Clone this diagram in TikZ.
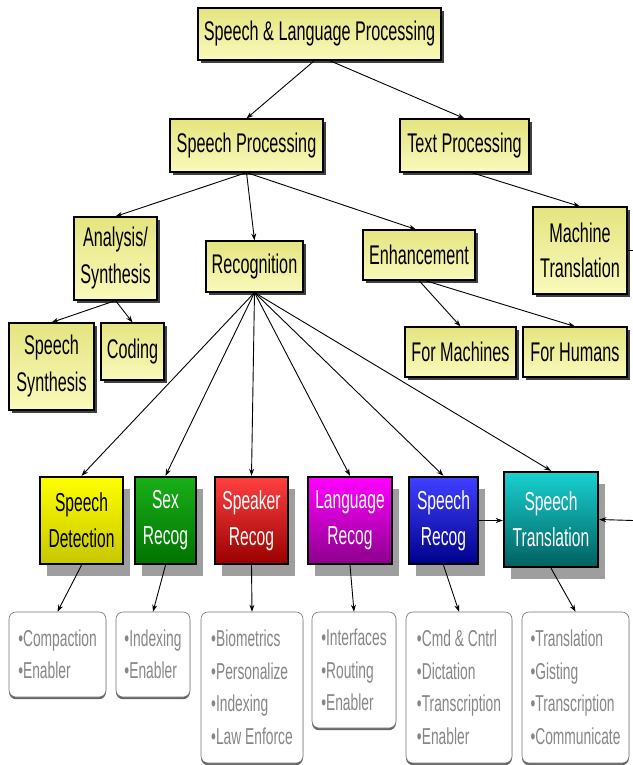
\documentclass[tikz,border=0pt]{standalone}
\usepackage{fontspec}
\setmainfont[FakeStretch=0.6]{Liberation Sans}
\usetikzlibrary{shadows,arrows.meta,calc}
\definecolor{ytop}{RGB}{228,228,128}
\definecolor{ybot}{RGB}{250,250,188}
\definecolor{listgray}{RGB}{135,135,135}
\tikzset{
  ybox/.style={draw=black, line width=1.1pt, top color=ytop, bottom color=ybot,
    drop shadow={shadow xshift=3pt, shadow yshift=-3pt, fill=black!75, opacity=1},
    align=center, inner sep=2pt, font=\fontsize{27}{37}\selectfont},
  cbox/.style 2 args={draw=black, line width=2.4pt, top color=#1, bottom color=#2,
    drop shadow={shadow xshift=7pt, shadow yshift=-12pt, fill=black!38, opacity=1},
    align=center, inner sep=2pt, text=white, font=\fontsize{26}{36}\selectfont,
    minimum height=87pt},
  lbox/.style={draw=black!55, line width=0.6pt, rounded corners=7pt, fill=white,
    drop shadow={shadow xshift=0pt, shadow yshift=-2.2pt, fill=black!60, opacity=1},
    align=left, inner sep=0pt, text=listgray, font=\fontsize{23}{32.5}\selectfont},
  arr/.style={line width=0.9pt, -{Stealth[length=7pt,width=5pt]}},
}
\begin{document}
\begin{tikzpicture}[x=1pt,y=-1pt]
\useasboundingbox (0,0) rectangle (632,765);
% yellow level
\node[ybox, minimum width=243pt, minimum height=52pt] (slp) at (319.5,34) {Speech \& Language Processing};
\node[ybox, minimum width=153pt, minimum height=53pt] (sp) at (246.5,145.5) {Speech Processing};
\node[ybox, minimum width=129pt, minimum height=53pt] (tp) at (464.5,145.5) {Text Processing};
\node[ybox, minimum width=83pt, minimum height=83pt] (ana) at (115.5,258.5) {Analysis/\\Synthesis};
\node[ybox, minimum width=97pt, minimum height=51pt] (rec) at (254.5,266.5) {Recognition};
\node[ybox, minimum width=112pt, minimum height=50pt] (enh) at (419,255) {Enhancement};
\node[ybox, minimum width=94pt, minimum height=87pt, font=\fontsize{27}{35}\selectfont] (mt) at (580,250.5) {Machine\\Translation};
\node[ybox, minimum width=85pt, minimum height=87pt] (ss) at (51.5,366.5) {Speech\\Synthesis};
\node[ybox, minimum width=63pt, minimum height=57pt] (cod) at (132.5,351.5) {Coding};
\node[ybox, minimum width=111pt, minimum height=50pt] (fm) at (460.5,352) {For Machines};
\node[ybox, minimum width=104pt, minimum height=50pt] (fh) at (575,352) {For Humans};
% coloured level
\node[cbox={yellow}{yellow!78!black}, text=black, minimum width=83pt] (sd) at (81.5,520.5) {Speech\\Detection};
\node[cbox={green!65!black!90}{green!45!black}, minimum width=61pt] (sx) at (165.5,520.5) {Sex\\Recog};
\node[cbox={red!75!white}{red!60!black}, minimum width=73pt] (spk) at (251.5,520.5) {Speaker\\Recog};
\node[cbox={magenta}{magenta!55!black}, minimum width=84pt] (lang) at (350,520.5) {Language\\Recog};
\node[cbox={blue!75!white}{blue!55!black}, minimum width=69pt] (srec) at (443.5,520.5) {Speech\\Recog};
\node[cbox={cyan!60!teal!90}{teal!75!black}, minimum width=94pt, minimum height=95pt] (st) at (551,519.5) {Speech\\Translation};
% list level
\node[lbox, minimum width=97pt, minimum height=85pt] (b1) at (57.5,654.5) {•Compaction\\•Enabler};
\node[lbox, minimum width=74pt, minimum height=85pt] (b2) at (153,654.5) {•Indexing\\•Enabler};
\node[lbox, minimum width=102pt, minimum height=151pt] (b3) at (252,687.5) {•Biometrics\\•Personalize\\•Indexing\\•Law Enforce};
\node[lbox, minimum width=84pt, minimum height=116pt] (b4) at (354,670) {•Interfaces\\•Routing\\•Enabler};
\node[lbox, minimum width=106pt, minimum height=151pt] (b5) at (459,687.5) {•Cmd \& Cntrl\\•Dictation\\•Transcription\\•Enabler};
\node[lbox, minimum width=107pt, minimum height=151pt] (b6) at (575.5,687.5) {•Translation\\•Gisting\\•Transcription\\•Communicate};
% edge coordinates
\coordinate (redge) at (633,520.5);
\coordinate (mtedge) at (633,250.5);
% connectors
\draw[arr] ($(slp.south)+(-5,0)$) -- (sp.north);
\draw[arr] ($(slp.south)+(10,0)$) -- (tp.north);
\draw[arr] (sp.south) -- (ana.north);
\draw[arr] (sp.south) -- (rec.north);
\draw[arr] (sp.south) -- ($(enh.north)+(-3,0)$);
\draw[arr] ($(tp.south)+(7,0)$) -- (mt.north);
\draw[arr] (ana.south) -- (ss.north);
\draw[arr] (ana.south) -- (cod.north);
\draw[arr] (enh.south) -- (fm.north);
\draw[arr] ($(enh.south)+(6,0)$) -- (fh.north);
\draw[line width=0.9pt] (mt.east) -- (mtedge);
\foreach \t in {sd,sx,spk,lang,srec,st} \draw[arr] (rec.south) -- (\t.north);
\draw[arr] (sd.south) -- (b1.north);
\draw[arr] (sx.south) -- (b2.north);
\draw[arr] (spk.south) -- (b3.north);
\draw[arr] (lang.south) -- (b4.north);
\draw[arr] (srec.south) -- (b5.north);
\draw[arr] (st.south) -- (b6.north);
\draw[arr] (srec.east) -- (srec.east -| st.west);
\draw[arr] (redge) -- (st.east);
\end{tikzpicture}
\end{document}
